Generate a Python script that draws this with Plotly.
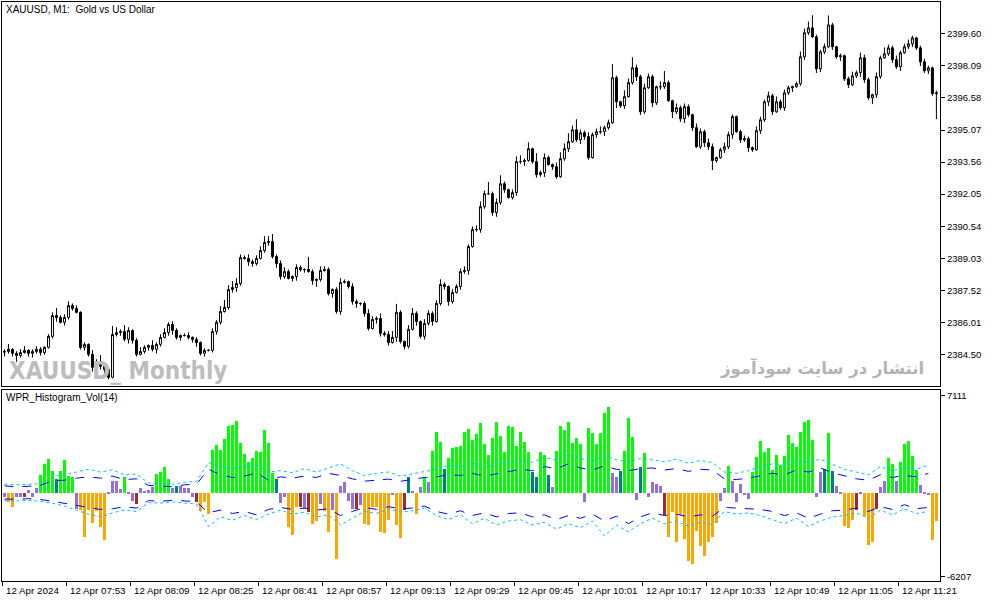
import plotly.graph_objs as go

# ---- price data (XAUUSD M1), one value per bar ----
first_open = 2384.60
closes = [
    2384.64, 2384.74, 2384.55, 2384.45, 2384.59, 2384.69, 2384.55, 2384.64, 2384.74, 2384.59,
    2384.83, 2385.35, 2386.33, 2386.24, 2386.01, 2386.24, 2386.80, 2386.66, 2386.48, 2384.83,
    2384.97, 2384.50, 2383.89, 2384.17, 2383.94, 2383.79, 2383.42, 2385.44, 2385.53, 2385.58,
    2385.21, 2385.63, 2385.16, 2384.50, 2384.64, 2384.83, 2384.92, 2384.74, 2384.97, 2385.30,
    2385.53, 2385.91, 2385.63, 2385.30, 2385.39, 2385.39, 2385.30, 2385.21, 2385.06, 2384.55,
    2384.69, 2384.69, 2385.58, 2386.01, 2386.52, 2386.71, 2387.56, 2387.65, 2387.84, 2389.06,
    2389.02, 2388.87, 2388.78, 2389.02, 2389.39, 2389.77, 2389.82, 2389.11, 2388.78, 2388.17,
    2388.40, 2388.08, 2388.17, 2388.59, 2388.50, 2388.50, 2388.40, 2387.98, 2388.03, 2388.45,
    2388.50, 2387.37, 2387.56, 2386.52, 2387.89, 2387.93, 2387.70, 2386.99, 2386.90, 2386.90,
    2386.43, 2385.72, 2386.15, 2386.19, 2385.49, 2385.44, 2385.06, 2385.30, 2386.48, 2385.11,
    2384.88, 2385.68, 2386.43, 2386.05, 2385.35, 2385.96, 2386.43, 2386.05, 2386.90, 2387.79,
    2387.70, 2386.99, 2387.42, 2387.70, 2388.40, 2388.45, 2389.58, 2390.38, 2390.38, 2391.46,
    2392.07, 2392.07, 2391.18, 2391.65, 2392.54, 2392.26, 2391.89, 2392.12, 2393.58, 2393.58,
    2393.63, 2394.19, 2393.58, 2392.97, 2393.06, 2393.77, 2393.44, 2393.34, 2392.87, 2393.72,
    2394.19, 2394.52, 2395.08, 2394.61, 2394.94, 2394.76, 2393.77, 2394.85, 2394.99, 2394.99,
    2395.18, 2395.41, 2397.53, 2396.40, 2396.21, 2396.64, 2397.30, 2398.00, 2397.58, 2395.93,
    2397.06, 2397.58, 2396.35, 2397.11, 2397.11, 2397.30, 2396.45, 2395.93, 2396.12, 2395.60,
    2396.17, 2395.79, 2395.18, 2394.28, 2394.99, 2394.47, 2394.28, 2393.63, 2393.77, 2394.14,
    2394.28, 2394.85, 2395.70, 2394.99, 2394.61, 2394.66, 2394.24, 2394.14, 2395.04, 2395.55,
    2396.40, 2396.68, 2395.93, 2396.40, 2396.12, 2396.82, 2397.06, 2397.11, 2397.25, 2398.52,
    2399.65, 2399.88, 2399.46, 2397.95, 2398.75, 2398.99, 2400.02, 2398.99, 2398.52, 2398.57,
    2397.48, 2397.20, 2397.62, 2397.77, 2398.47, 2397.44, 2396.59, 2396.73, 2397.58, 2398.47,
    2398.66, 2398.94, 2398.38, 2398.05, 2398.71, 2398.99, 2399.13, 2399.41, 2398.94, 2398.28,
    2397.86, 2398.00, 2396.78, 2396.82,
]
upper_wick = [
    0.10, 0.25, 0.05, 0.10, 0.15, 0.20, 0.05, 0.10, 0.15, 0.10,
    0.05, 0.10, 0.15, 0.35, 0.10, 0.15, 0.20, 0.10, 0.15, 0.05,
    0.10, 0.05, 0.20, 0.10, 0.30, 0.05, 0.10, 0.40, 0.25, 0.10,
    0.30, 0.15, 0.05, 0.10, 0.20, 0.10, 0.05, 0.25, 0.10, 0.15,
    0.20, 0.10, 0.15, 0.10, 0.05, 0.10, 0.15, 0.05, 0.10, 0.05,
    0.10, 0.05, 0.15, 0.10, 0.25, 0.35, 0.20, 0.30, 0.25, 0.15,
    0.10, 0.20, 0.10, 0.15, 0.20, 0.30, 0.25, 0.35, 0.10, 0.15,
    0.20, 0.10, 0.05, 0.15, 0.10, 0.05, 0.60, 0.10, 0.05, 0.20,
    0.15, 0.10, 0.05, 0.10, 0.20, 0.10, 0.05, 0.15, 0.10, 0.05,
    0.10, 0.20, 0.15, 0.10, 0.25, 0.10, 0.15, 0.30, 0.40, 0.10,
    0.05, 0.20, 0.25, 0.10, 0.05, 0.20, 0.15, 0.10, 0.15, 0.25,
    0.10, 0.05, 0.15, 0.10, 0.15, 0.20, 0.10, 0.15, 0.20, 0.25,
    0.15, 0.55, 0.10, 0.20, 0.40, 0.10, 0.05, 0.15, 0.25, 0.30,
    0.10, 0.30, 0.05, 0.40, 0.10, 0.20, 0.10, 0.05, 0.20, 0.30,
    0.25, 0.40, 0.20, 0.50, 0.15, 0.10, 0.20, 0.10, 0.15, 0.25,
    0.10, 0.15, 0.65, 0.10, 0.05, 0.30, 0.20, 0.50, 0.15, 0.10,
    0.20, 0.15, 0.10, 0.05, 0.25, 0.55, 0.10, 0.05, 0.20, 0.10,
    0.15, 0.10, 0.05, 0.20, 0.15, 0.10, 0.20, 0.15, 0.05, 0.10,
    0.20, 0.15, 0.10, 0.05, 0.10, 0.15, 0.10, 0.05, 0.20, 0.15,
    0.10, 0.20, 0.10, 0.25, 0.10, 0.15, 0.10, 0.05, 0.10, 0.25,
    0.20, 0.30, 0.60, 0.10, 0.10, 0.15, 0.45, 0.10, 0.05, 0.10,
    0.05, 0.10, 0.20, 0.10, 0.25, 0.15, 0.10, 0.05, 0.20, 0.10,
    0.30, 0.15, 0.10, 0.20, 0.10, 0.15, 0.20, 0.10, 0.05, 0.10,
    0.15, 0.10, 0.05, 0.10,
]
lower_wick = [
    0.20, 0.10, 0.15, 0.30, 0.10, 0.05, 0.15, 0.20, 0.10, 0.15,
    0.10, 0.05, 0.10, 0.20, 0.05, 0.15, 0.10, 0.10, 0.05, 0.10,
    0.15, 0.10, 0.20, 0.05, 0.15, 0.20, 0.10, 0.05, 0.10, 0.15,
    0.10, 0.20, 0.15, 0.10, 0.05, 0.10, 0.15, 0.10, 0.20, 0.10,
    0.05, 0.15, 0.20, 0.10, 0.15, 0.05, 0.10, 0.15, 0.20, 0.10,
    0.15, 0.05, 0.10, 0.15, 0.10, 0.05, 0.10, 0.15, 0.20, 0.10,
    0.05, 0.20, 0.15, 0.10, 0.05, 0.10, 0.15, 0.10, 0.20, 0.15,
    0.10, 0.05, 0.15, 0.20, 0.10, 0.15, 0.05, 0.20, 0.30, 0.10,
    0.05, 0.10, 0.20, 0.10, 0.15, 0.05, 0.10, 0.15, 0.20, 0.10,
    0.15, 0.10, 0.05, 0.20, 0.15, 0.10, 0.15, 0.05, 0.20, 0.10,
    0.15, 0.10, 0.05, 0.20, 0.10, 0.15, 0.10, 0.20, 0.05, 0.10,
    0.15, 0.20, 0.10, 0.05, 0.15, 0.10, 0.20, 0.05, 0.10, 0.15,
    0.10, 0.05, 0.15, 0.20, 0.10, 0.15, 0.05, 0.10, 0.15, 0.10,
    0.20, 0.05, 0.10, 0.15, 0.10, 0.20, 0.05, 0.15, 0.10, 0.05,
    0.10, 0.15, 0.05, 0.10, 0.20, 0.15, 0.10, 0.05, 0.15, 0.10,
    0.20, 0.10, 0.05, 0.30, 0.10, 0.15, 0.05, 0.10, 0.20, 0.15,
    0.10, 0.05, 0.20, 0.10, 0.15, 0.10, 0.05, 0.30, 0.10, 0.15,
    0.20, 0.10, 0.15, 0.05, 0.10, 0.20, 0.15, 0.45, 0.10, 0.05,
    0.15, 0.10, 0.20, 0.05, 0.15, 0.10, 0.20, 0.10, 0.05, 0.15,
    0.10, 0.20, 0.15, 0.05, 0.10, 0.15, 0.10, 0.20, 0.05, 0.10,
    0.15, 0.10, 0.05, 0.20, 0.15, 0.10, 0.05, 0.15, 0.10, 0.20,
    0.10, 0.15, 0.05, 0.10, 0.20, 0.15, 0.10, 0.30, 0.15, 0.10,
    0.05, 0.10, 0.15, 0.10, 0.20, 0.05, 0.10, 0.15, 0.10, 0.20,
    0.10, 0.15, 0.10, 1.20,
]

# ---- WPR_Histogram_Vol(14) ----
hist_values = [
    -317, -732, -1098, -317, -317, -366, 171, -317, 366, 1293,
    2074, 2489, 1586, 976, 1586, 2391, 1220, 1171, -1220, -1293,
    -3294, -1293, -2269, -1342, -2513, -3465, -122, 854, 854, 244,
    1147, -73, -610, -854, 366, 122, 171, 439, 1342, 1513,
    1879, 976, 366, 488, 488, 366, 366, -317, -683, -1391,
    -732, -1586, 3123, 3489, 3099, 3904, 4880, 5002, 5246, 3611,
    2806, 2245, 2562, 3050, 2977, 4587, 3611, 1464, 976, -805,
    -317, -2562, -3123, -1098, -1049, -1147, -1464, -2318, -2074, -854,
    -1342, -2879, -1269, -4880, 512, 805, -634, -1196, -1196, -952,
    -2294, -2416, -1074, -1098, -2904, -2977, -2001, -220, -2416, -3367,
    -1318, 1171, 146, -1562, 439, 1171, 805, 3074, 4416, 3733,
    1732, 2513, 3245, 3318, 3392, 4465, 4660, 3855, 4294, 5148,
    3562, 2757, 3977, 5197, 4124, 2952, 4856, 4782, 3392, 4465,
    3733, 3001, 1488, 1171, 3001, 2782, 1318, 439, 3074, 4856,
    4612, 5197, 3611, 3977, 3562, -708, 4709, 4343, 3562, 4343,
    5880, 6320, 1415, 1122, 1562, 3074, 5514, 4050, -537, 1854,
    2879, -342, 756, 634, 512, -1684, -3270, -1440, -3636, -1684,
    -3392, -5026, -5295, -2830, -3928, -4660, -3636, -3270, -2245, -634,
    342, 1976, 878, -708, 634, -171, -512, 1488, 2635, 3806,
    3001, 3245, 1684, 2782, 2050, 2708, 4246, 3611, 3367, 4465,
    5197, 5344, 3855, -342, 1488, 1732, 4343, 1610, 512, -49,
    -2464, -2611, -2050, -1269, -49, -1732, -3880, -3636, -1196, 439,
    878, 2513, 2098, 878, 2220, 3562, 3758, 2660, 1684, 586,
    -146, -220, -3514, -2098,
]
# g=strong up, t=weak up, p=flat, o=strong down, b=weak down
hist_state = (
    "pooppbpppg" "gggtggggpo" "oooooopppp" "gppbppppgg" "ggptppppbo"
    "oogggggggg" "ggggggggtp" "pooobpboop" "oopoppppbp" "ooooooopoo"
    "btpopgpggg" "tggggggggg" "gggggggggg" "ggttggtpgg" "gggggpgggg"
    "ggpptgggpt" "gppppboooo" "ooooooooop" "pgpppppggg" "gggggggggg"
    "gggpptgtpp" "ooobpooobp" "pggpgggggp" "ppoo"
)

# band lines, sampled every 3rd bar
band_step = 3
upper_outer = [
    620, 560, 600, 650, 1150, 1300, 1500, 1700, 1500, 1650,
    1300, 1350, 700, 620, 600, 750, 800, 2200, 1900, 1750,
    1850, 2000, 1500, 1600, 1450, 1750, 1500, 1800, 2100, 1600,
    1250, 1400, 1500, 1200, 1350, 1550, 1700, 2000, 1850, 2200,
    1800, 2100, 2250, 2400, 2200, 2600, 2350, 2800, 2500, 2300,
    2700, 2400, 2250, 2500, 2400, 2250, 2450, 2150, 2350, 2200,
    1500, 1400, 1600, 1900, 2100, 2000, 2350, 2200, 2450, 2100,
    1700, 1500, 1300, 1900, 1600, 1800, 1700, 2000,
]
upper_inner = [
    480, 420, 450, 520, 860, 900, 1050, 1150, 1050, 1200,
    950, 1000, 520, 450, 420, 560, 600, 1700, 1300, 1100,
    1200, 1450, 900, 1150, 1050, 1200, 1100, 1400, 1250, 1000,
    830, 900, 980, 820, 950, 1100, 1150, 1300, 1250, 1400,
    1200, 1350, 1500, 1700, 1600, 1900, 1750, 2100, 1800, 1650,
    1950, 1700, 1600, 1750, 1800, 1650, 1750, 1550, 1700, 1650,
    1000, 950, 1050, 1200, 1400, 1300, 1650, 1500, 1800, 1450,
    1200, 1000, 900, 1300, 1100, 1250, 1150, 1400,
]
lower_inner = [
    -480, -500, -460, -520, -650, -800, -1000, -1150, -1250, -1200,
    -1050, -1150, -600, -650, -580, -620, -700, -1500, -1300, -1550,
    -1400, -1650, -1250, -1100, -1250, -1150, -1300, -1200, -1700, -1400,
    -1100, -1250, -1050, -1200, -1150, -1000, -1400, -1600, -1350, -1700,
    -1500, -1800, -1550, -1500, -1800, -1650, -2000, -1700, -1900, -1600,
    -2100, -1750, -2300, -1800, -1500, -1700, -1600, -1800, -1650, -1750,
    -1100, -1150, -1200, -1250, -1400, -1700, -1500, -1900, -1600, -1350,
    -1300, -1150, -1400, -1050, -1250, -900, -1200, -1100,
]
lower_outer = [
    -600, -620, -580, -650, -800, -1000, -1300, -1600, -1800, -1500,
    -1300, -1400, -750, -780, -700, -760, -850, -2500, -1800, -2050,
    -1700, -2000, -1600, -1300, -1600, -1450, -1800, -1650, -2400, -1900,
    -1400, -1550, -1200, -1450, -1350, -1150, -1700, -2000, -1650, -2300,
    -1900, -2400, -2100, -2000, -2400, -2200, -2700, -2300, -2600, -2100,
    -3200, -2400, -2900, -2300, -1900, -2300, -2100, -2500, -2200, -2350,
    -1400, -1600, -1500, -1700, -2000, -2300, -1900, -2500, -2100, -1800,
    -1700, -1500, -1900, -1300, -1650, -1200, -1550, -1400,
]

# axis labels
price_ticks = [2384.50, 2386.01, 2387.52, 2389.03, 2390.54, 2392.05,
               2393.56, 2395.07, 2396.58, 2398.09, 2399.60]
ind_ticks = [7111, -6207]
time_labels = ['12 Apr 2024', '12 Apr 07:53', '12 Apr 08:09', '12 Apr 08:25',
               '12 Apr 08:41', '12 Apr 08:57', '12 Apr 09:13', '12 Apr 09:29',
               '12 Apr 09:45', '12 Apr 10:01', '12 Apr 10:17', '12 Apr 10:33',
               '12 Apr 10:49', '12 Apr 11:05', '12 Apr 11:21']
label_every = 16

state_colors = {'g': '#00FF00', 't': '#008080', 'p': '#9370DB',
                'o': '#FFA500', 'b': '#A52A2A'}

n = len(closes)
bars = list(range(n))
opens = [first_open] + closes[:-1]
highs = [max(o, c) + w for o, c, w in zip(opens, closes, upper_wick)]
lows = [min(o, c) - w for o, c, w in zip(opens, closes, lower_wick)]
band_x = bars[::band_step]

FONT = 'Liberation Sans, Arial, sans-serif'

candles = go.Candlestick(
    x=bars, open=opens, high=highs, low=lows, close=closes,
    increasing=dict(line=dict(color='black', width=1), fillcolor='white'),
    decreasing=dict(line=dict(color='black', width=1), fillcolor='black'),
    whiskerwidth=0, xaxis='x', yaxis='y', showlegend=False, hoverinfo='skip')

hist = go.Bar(x=bars, y=hist_values, width=0.7,
              marker=dict(color=[state_colors[s] for s in hist_state], line=dict(width=0)),
              xaxis='x2', yaxis='y2', showlegend=False)

def band(vals, color, dash):
    return go.Scatter(x=band_x, y=vals, mode='lines',
                      line=dict(color=color, width=1, dash=dash),
                      xaxis='x2', yaxis='y2', showlegend=False, hoverinfo='skip')

data = [candles, hist,
        band(upper_outer, '#00BFFF', 'dot'), band(upper_inner, '#0000FF', 'dash'),
        band(lower_inner, '#0000FF', 'dash'), band(lower_outer, '#00BFFF', 'dot')]

xr = [-0.62, 233.9]
annotations = [
    dict(xref='paper', yref='paper', x=0, y=1, xanchor='left', yanchor='top',
         xshift=2, yshift=0, showarrow=False, text='XAUUSD, M1:\u00a0\u00a0Gold vs US Dollar',
         font=dict(family=FONT, size=10, color='black')),
    dict(xref='paper', yref='paper', x=0, y=0.330, xanchor='left', yanchor='top',
         xshift=2, yshift=0, showarrow=False, text='WPR_Histogram_Vol(14)',
         font=dict(family=FONT, size=10, color='black')),
    dict(xref='paper', yref='paper', x=0, y=0.336, xanchor='left', yanchor='bottom',
         xshift=5, yshift=-1, showarrow=False, text='<b>XAUUSD_ Monthly</b>',
         font=dict(family='DejaVu Sans Condensed, DejaVu Sans, sans-serif', size=24,
                   color='#BDBDBD')),
    dict(xref='paper', yref='paper', x=0.985, y=0.336, xanchor='right', yanchor='bottom',
         yshift=5, showarrow=False, text='<b>انتشار در سایت سودآموز</b>',
         font=dict(family='DejaVu Sans, sans-serif', size=16.5, color='#B4B4B4')),
]
for k, lab in enumerate(time_labels):
    annotations.append(dict(xref='x2', yref='paper', x=k * label_every - 0.45, y=0,
                            xanchor='left', yanchor='top', yshift=-2, xshift=1,
                            showarrow=False, text=lab,
                            font=dict(family=FONT, size=9.8, color='black')))

axis_common = dict(showgrid=False, zeroline=False, showline=True, linecolor='black',
                   linewidth=1, mirror=True)

layout = go.Layout(
    width=994, height=603,
    margin=dict(l=2, r=54, t=2, b=22),
    paper_bgcolor='white', plot_bgcolor='white',
    showlegend=False, bargap=0,
    annotations=annotations,
    xaxis=dict(domain=[0, 1], anchor='y', range=xr, showticklabels=False,
               rangeslider=dict(visible=False), **axis_common),
    yaxis=dict(domain=[0.336, 1], anchor='x', side='right', range=[2382.99, 2401.10],
               tickmode='array', tickvals=price_ticks,
               ticktext=['%.2f' % t for t in price_ticks],
               ticks='outside', ticklen=4, tickcolor='black',
               tickfont=dict(family=FONT, size=9.5, color='black'), **axis_common),
    xaxis2=dict(domain=[0, 1], anchor='y2', range=xr, showticklabels=False,
                tickmode='array',
                tickvals=[k * label_every - 0.45 for k in range(len(time_labels))],
                ticks='outside', ticklen=4, tickcolor='black', **axis_common),
    yaxis2=dict(domain=[0, 0.330], anchor='x2', side='right', range=[-6515, 7540],
                tickmode='array', tickvals=ind_ticks, ticktext=[str(t) for t in ind_ticks],
                ticks='outside', ticklen=4, tickcolor='black',
                tickfont=dict(family=FONT, size=9.5, color='black'), **axis_common),
)

fig = go.Figure(data=data, layout=layout)
fig.write_html('out.html', config={'displayModeBar': False},
               post_script="document.body.style.margin='0';document.body.style.overflow='hidden';")
